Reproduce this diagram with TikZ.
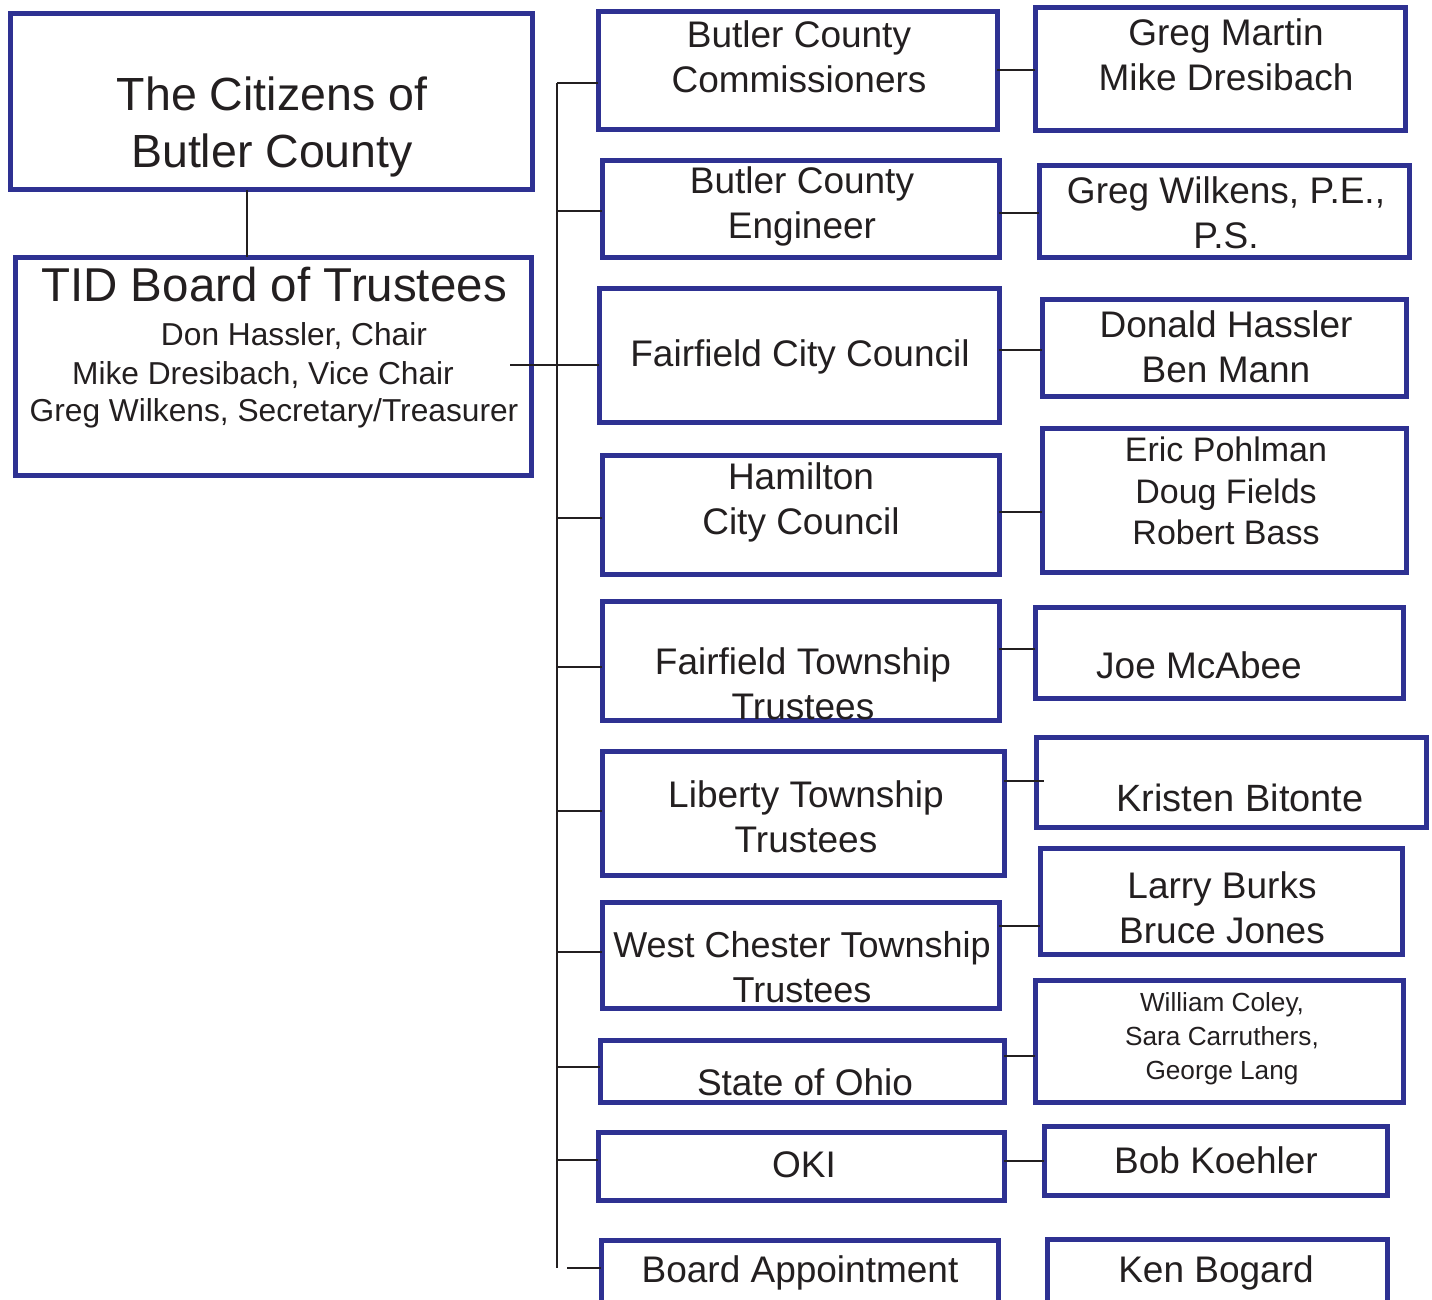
\documentclass[tikz,border=0pt]{standalone}
\usepackage{fontspec}
\setmainfont{Liberation Sans}
\definecolor{tidblue}{RGB}{46,49,146}
\definecolor{ink}{RGB}{35,31,32}
\tikzset{
  box/.style={draw=tidblue, line width=5pt, inner sep=0pt, outer sep=0pt, fill=white},
  txt/.style={inner sep=0pt, align=center, text=ink, yshift=-2.5pt},
  big/.style={txt, font=\fontsize{46.5}{57}\selectfont},
  mid/.style={txt, font=\fontsize{37}{45}\selectfont},
  sub/.style={txt, font=\fontsize{31.7}{39}\selectfont},
  conn/.style={draw=ink, line width=2.4pt},
}
\newcommand{\bx}[5]{\node[box, minimum width=#4, minimum height=#5] (#1) at (#2,#3) {};}
\begin{document}
\begin{tikzpicture}[x=1pt, y=-1pt]
\useasboundingbox (0,0) rectangle (1432,1300);
\clip (0,0) rectangle (1432,1300);
\fill[white] (0,0) rectangle (1432,1300);

% trunk
\coordinate (trTop) at (557,83);
\coordinate (trBot) at (557,1268);
\draw[conn] (trTop) -- (trBot);

% boxes - left
\bx{cit}{271}{102}{522}{176}
\bx{tid}{273}{366}{516}{218}
% middle column
\bx{bcc}{797.5}{71}{399}{118}
\bx{bce}{800.5}{209}{397}{96}
\bx{fcc}{799}{355}{400}{134}
\bx{ham}{800.5}{514.5}{397}{119}
\bx{fft}{800.5}{660.5}{397}{119}
\bx{lib}{803}{813}{402}{124}
\bx{wct}{800.5}{955}{397}{106}
\bx{soh}{802}{1071}{404}{62}
\bx{oki}{801}{1166}{406}{68}
\bx{bap}{799.5}{1290}{397}{100}
% right column
\bx{gm}{1220}{69.5}{370}{123}
\bx{gw}{1224}{211.5}{370}{91}
\bx{dh}{1224}{347.5}{364}{97}
\bx{ep}{1224}{500}{364}{144}
\bx{jm}{1219}{652.5}{368}{91}
\bx{kb}{1231}{782}{390}{90}
\bx{lb}{1221}{901}{362}{106}
\bx{wc}{1219}{1041}{368}{122}
\bx{bk}{1215.5}{1160.5}{343}{69}
\bx{kbg}{1217}{1289.5}{340}{101}

% connectors
\draw[conn] (cit.south -| 247,0) -- (tid.north -| 247,0);
\draw[conn] ([xshift=-21pt]tid.east |- 0,365) -- (fcc.west |- 0,365);
\draw[conn] (trTop) -- (bcc.west |- trTop);
\draw[conn] (557,211) -- (bce.west |- 0,211);
\draw[conn] (557,518) -- (ham.west |- 0,518);
\draw[conn] (557,667) -- (fft.west |- 0,667);
\draw[conn] (557,811) -- (lib.west |- 0,811);
\draw[conn] (557,952) -- (wct.west |- 0,952);
\draw[conn] (557,1067) -- (soh.west |- 0,1067);
\draw[conn] (557,1160) -- (oki.west |- 0,1160);
\draw[conn] ([xshift=10pt]trBot) -- (bap.west |- trBot);

\draw[conn] (bcc.east |- 0,70) -- (gm.west |- 0,70);
\draw[conn] (bce.east |- 0,213) -- (gw.west |- 0,213);
\draw[conn] (fcc.east |- 0,350) -- (dh.west |- 0,350);
\draw[conn] (ham.east |- 0,512) -- (ep.west |- 0,512);
\draw[conn] (fft.east |- 0,649) -- (jm.west |- 0,649);
\draw[conn] (lib.east |- 0,781) -- ([xshift=8pt]kb.west |- 0,781);
\draw[conn] (wct.east |- 0,926) -- (lb.west |- 0,926);
\draw[conn] (soh.east |- 0,1056) -- (wc.west |- 0,1056);
\draw[conn] (oki.east |- 0,1161) -- (bk.west |- 0,1161);

% texts - left
\node[big] (tcit) at (272,124.5) {The Citizens of\\Butler County};
\node[txt, font=\fontsize{47.5}{57}\selectfont] (ttid) at (274,282) {TID Board of Trustees};
\node[sub] (ttid1) at (294,334) {Don Hassler, Chair};
\node[sub] (ttid2) at (263,373) {Mike Dresibach, Vice Chair};
\node[sub] (ttid3) at (274,411) {Greg Wilkens, Secretary/Treasurer};

% texts - middle
\node[mid] (tbcc) at (799,54.5) {Butler County\\Commissioners};
\node[mid] (tbce) at (802,203.5) {Butler County\\Engineer};
\node[mid] (tfcc) at (800,354) {Fairfield City Council};
\node[mid] (tham) at (801,500) {Hamilton\\City Council};
\node[mid] (tfft) at (803,681.5) {Fairfield Township\\Trustees};
\node[mid] (tlib) at (806,814) {Liberty Township\\Trustees};
\node[txt, font=\fontsize{36}{45}\selectfont] (twct) at (802,964.5) {West Chester Township\\Trustees};
\node[mid] (tsoh) at (805,1080) {State of Ohio};
\node[mid] (toki) at (804,1162) {OKI};
\node[mid] (tbap) at (800,1270) {Board Appointment};

% texts - right
\node[mid] (tgm) at (1226,52) {Greg Martin\\Mike Dresibach};
\node[mid] (tgw) at (1226,210) {Greg Wilkens, P.E.,\\P.S.};
\node[mid] (tdh) at (1226,344) {Donald Hassler\\Ben Mann};
\node[txt, font=\fontsize{34}{41.5}\selectfont] (tep) at (1226,488.5) {Eric Pohlman\\Doug Fields\\Robert Bass};
\node[mid] (tjm) at (1199,663) {Joe McAbee};
\node[txt, font=\fontsize{38}{45}\selectfont] (tkb) at (1240,795) {Kristen Bitonte};
\node[mid] (tlb) at (1222,905.5) {Larry Burks\\Bruce Jones};
\node[txt, font=\fontsize{26.2}{34}\selectfont] (twc) at (1222,1036) {William Coley,\\Sara Carruthers,\\George Lang};
\node[mid] (tbk) at (1216,1158) {Bob Koehler};
\node[mid] (tkbg) at (1216,1270) {Ken Bogard};
\end{tikzpicture}
\end{document}
